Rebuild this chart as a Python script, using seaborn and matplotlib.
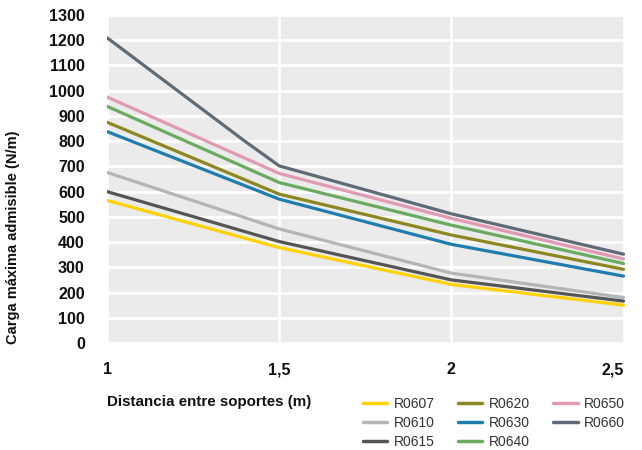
import pandas as pd
import matplotlib.pyplot as plt
import seaborn as sns
from matplotlib.ticker import FuncFormatter

# data
distancia = [1, 1.5, 2, 2.5]
distancia_r0660 = [1, 1.4, 1.5, 2, 2.5]

r0607 = [565, 378, 232, 150]
r0610 = [676, 452, 277, 180]
r0615 = [600, 402, 250, 166]
r0620 = [875, 590, 428, 292]
r0630 = [838, 570, 391, 265]
r0640 = [938, 636, 467, 315]
r0650 = [975, 672, 494, 333]
r0660 = [1210, 800, 702, 512, 352]

series = ["R0607", "R0610", "R0615", "R0620", "R0630", "R0640", "R0650", "R0660"]
colores = ["#ffd200", "#b5b5b5", "#555555", "#8c8720", "#1f7db0",
           "#6bab5f", "#e29ab2", "#5f6b76"]

# long format table
rows = []
for name, vals in zip(series[:-1], [r0607, r0610, r0615, r0620, r0630, r0640, r0650]):
    for x, v in zip(distancia, vals):
        rows.append({"dist": x, "carga": v, "serie": name})
for x, v in zip(distancia_r0660, r0660):
    rows.append({"dist": x, "carga": v, "serie": "R0660"})
df = pd.DataFrame(rows)

sns.set_style("white")
plt.rcParams["font.family"] = ["Liberation Sans", "DejaVu Sans"]

fig = plt.figure(figsize=(6.42, 4.5), dpi=100)
ax = fig.add_axes([0.1667, 0.2378, 0.8083, 0.7289])
ax.set_facecolor("#ebebeb")

sns.lineplot(data=df, x="dist", y="carga", hue="serie", hue_order=series,
             palette=colores, linewidth=2.3, ax=ax, legend=False, sort=True)

ax.set_xlim(1, 2.507)
ax.set_ylim(0, 1300)
ax.set_yticks(range(0, 1301, 100))
ax.set_xticks([1, 1.5, 2, 2.5])
ax.xaxis.set_major_formatter(FuncFormatter(lambda v, p: f"{v:g}".replace(".", ",")))

ax.grid(True, color="white", linewidth=2)
ax.set_axisbelow(True)
for s in ax.spines.values():
    s.set_visible(False)

ax.tick_params(axis="both", length=0, labelsize=11.5, colors="#111111")
ax.tick_params(axis="y", pad=16)
ax.tick_params(axis="x", pad=14)
for lab in ax.get_xticklabels() + ax.get_yticklabels():
    lab.set_fontweight("bold")
# last x label sits inside the figure
fig.canvas.draw()
ax.get_xticklabels()[-1].set_horizontalalignment("right")

ax.set_xlabel("Distancia entre soportes (m)", loc="left", fontsize=10.9,
              fontweight="bold", labelpad=13, color="#111111")
ax.set_ylabel("Carga máxima admisible (N/m)", fontsize=10.5,
              fontweight="bold", color="#111111")
ax.yaxis.set_label_coords(-0.168, 0.323)

handles = [plt.Line2D([], [], color=c, linewidth=2.5) for c in colores]
leg = fig.legend(handles, series, ncol=3, loc="upper left",
                 bbox_to_anchor=(0.5654, 0.1178), frameon=False, fontsize=10,
                 handlelength=1.75, handletextpad=0.45, columnspacing=1.7,
                 labelspacing=0.35, labelcolor="#333333",
                 borderpad=0, borderaxespad=0)

fig.savefig("out.png", dpi=100)
